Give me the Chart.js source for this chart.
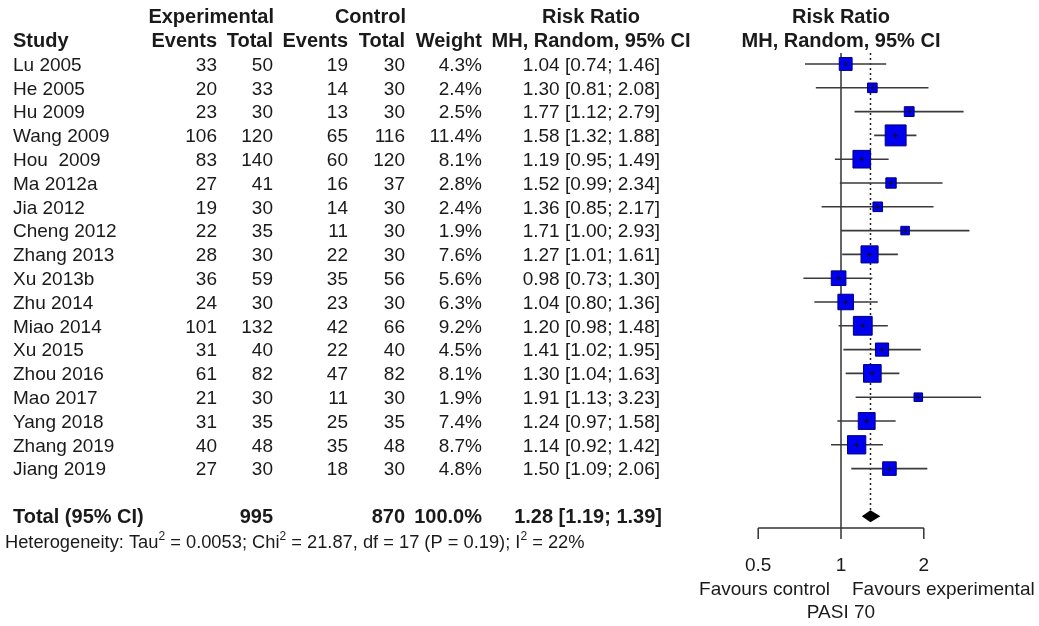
<!DOCTYPE html>
<html>
<head>
<meta charset="utf-8">
<title>PASI 70 forest plot</title>
<script src="https://cdn.jsdelivr.net/npm/chart.js@4.4.1/dist/chart.umd.min.js"></script>
<style>
  html, body { margin: 0; padding: 0; background: #ffffff; }
  canvas { display: block; }
</style>
</head>
<body>
<canvas id="forest" width="1039" height="626"></canvas>
<script>
// ---- study data ----
const studies = ['Lu 2005', 'He 2005', 'Hu 2009', 'Wang 2009', 'Hou  2009', 'Ma 2012a', 'Jia 2012',
  'Cheng 2012', 'Zhang 2013', 'Xu 2013b', 'Zhu 2014', 'Miao 2014', 'Xu 2015', 'Zhou 2016',
  'Mao 2017', 'Yang 2018', 'Zhang 2019', 'Jiang 2019'];
const expEvents  = [33, 20, 23, 106, 83, 27, 19, 22, 28, 36, 24, 101, 31, 61, 21, 31, 40, 27];
const expTotal   = [50, 33, 30, 120, 140, 41, 30, 35, 30, 59, 30, 132, 40, 82, 30, 35, 48, 30];
const ctrlEvents = [19, 14, 13, 65, 60, 16, 14, 11, 22, 35, 23, 42, 22, 47, 11, 25, 35, 18];
const ctrlTotal  = [30, 30, 30, 116, 120, 37, 30, 30, 30, 56, 30, 66, 40, 82, 30, 35, 48, 30];
const weights    = [4.3, 2.4, 2.5, 11.4, 8.1, 2.8, 2.4, 1.9, 7.6, 5.6, 6.3, 9.2, 4.5, 8.1, 1.9, 7.4, 8.7, 4.8];
const riskRatio  = [1.04, 1.30, 1.77, 1.58, 1.19, 1.52, 1.36, 1.71, 1.27, 0.98, 1.04, 1.20, 1.41, 1.30, 1.91, 1.24, 1.14, 1.50];
const ciLower    = [0.74, 0.81, 1.12, 1.32, 0.95, 0.99, 0.85, 1.00, 1.01, 0.73, 0.80, 0.98, 1.02, 1.04, 1.13, 0.97, 0.92, 1.09];
const ciUpper    = [1.46, 2.08, 2.79, 1.88, 1.49, 2.34, 2.17, 2.93, 1.61, 1.30, 1.36, 1.48, 1.95, 1.63, 3.23, 1.58, 1.42, 2.06];

// pooled random-effects estimate
const totalExp = 995;
const totalCtrl = 870;
const totalWeight = 100.0;
const totalRR = 1.28;
const totalLower = 1.19;
const totalUpper = 1.39;

// axis of the forest panel
const axisTicks = [0.5, 1, 2];
const axisTickLabels = ['0.5', '1', '2'];

// ---- layout ----
const W = 1039, H = 626;
const NULL_PX = 841;            // horizontal position of RR = 1
const PX_PER_DOUBLING = 82.8;   // log-scale spacing
const ROW0_PX = 64;             // first study row
const ROW_PX = 23.8;            // row pitch
const xMin = Math.pow(2, (0 - NULL_PX) / PX_PER_DOUBLING);
const xMax = Math.pow(2, (W - NULL_PX) / PX_PER_DOUBLING);
const yMin = -ROW0_PX / ROW_PX;
const yMax = yMin + H / ROW_PX;

const totalRow = studies.length + 1;
const axisRow = totalRow + 0.5;
const topRow = -0.46;

const FONT = '"Liberation Sans", Arial, sans-serif';
const TEXT = '#1a1a1a';

const ciData = [];
riskRatio.forEach((v, i) => {
  ciData.push({ x: ciLower[i], y: i }, { x: ciUpper[i], y: i }, { x: null, y: null });
});

const fmt2 = v => v.toFixed(2);
const rrLabel = (e, l, u) => fmt2(e) + ' [' + fmt2(l) + '; ' + fmt2(u) + ']';

const tablePlugin = {
  id: 'forestTable',
  beforeDraw(chart) {
    const ctx = chart.ctx;
    ctx.save();
    ctx.fillStyle = '#ffffff';
    ctx.fillRect(0, 0, chart.width, chart.height);
    ctx.restore();
  },
  afterDatasetsDraw(chart) {
    const ctx = chart.ctx;
    const xs = chart.scales.x, ys = chart.scales.y;
    const rowY = r => ys.getPixelForValue(r) + 1.5;

    // pooled diamond
    const yc = ys.getPixelForValue(totalRow);
    const half = ROW_PX * 0.25;
    ctx.save();
    ctx.fillStyle = '#000000';
    ctx.beginPath();
    ctx.moveTo(xs.getPixelForValue(totalLower), yc);
    ctx.lineTo(xs.getPixelForValue(totalRR), yc - half);
    ctx.lineTo(xs.getPixelForValue(totalUpper), yc);
    ctx.lineTo(xs.getPixelForValue(totalRR), yc + half);
    ctx.closePath();
    ctx.fill();
    ctx.restore();

    // x axis of forest panel
    const ay = ys.getPixelForValue(axisRow);
    const tickEnd = ys.getPixelForValue(axisRow + 0.46);
    ctx.save();
    ctx.strokeStyle = '#333333';
    ctx.lineWidth = 1.5;
    ctx.beginPath();
    ctx.moveTo(xs.getPixelForValue(axisTicks[0]), ay);
    ctx.lineTo(xs.getPixelForValue(axisTicks[axisTicks.length - 1]), ay);
    axisTicks.forEach(t => {
      const px = xs.getPixelForValue(t);
      ctx.moveTo(px, ay);
      ctx.lineTo(px, tickEnd);
    });
    ctx.stroke();
    ctx.restore();

    const text = (str, x, y, align, bold) => {
      ctx.font = (bold ? 'bold 20px ' : '19px ') + FONT;
      ctx.textAlign = align;
      ctx.fillText(str, x, y);
    };

    ctx.save();
    ctx.fillStyle = TEXT;
    ctx.textBaseline = 'middle';

    axisTicks.forEach((t, i) => text(axisTickLabels[i], xs.getPixelForValue(t), rowY(totalRow + 2.02), 'center', false));
    const x1 = xs.getPixelForValue(1);
    text('Favours control', x1 - 11, rowY(totalRow + 3.02), 'right', false);
    text('Favours experimental', x1 + 11, rowY(totalRow + 3.02), 'left', false);
    text('PASI 70', x1, rowY(totalRow + 4.0), 'center', false);

    // column headers
    const colStudy = 13, colEE = 217, colET = 273, colCE = 348, colCT = 405, colW = 482, colRR = 660, colRRc = 591;
    text('Experimental', colET + 1, rowY(-2), 'right', true);
    text('Control', colCT + 1, rowY(-2), 'right', true);
    text('Risk Ratio', colRRc, rowY(-2), 'center', true);
    text('Risk Ratio', x1, rowY(-2), 'center', true);
    text('Study', colStudy, rowY(-1), 'left', true);
    text('Events', colEE, rowY(-1), 'right', true);
    text('Total', colET, rowY(-1), 'right', true);
    text('Events', colCE, rowY(-1), 'right', true);
    text('Total', colCT, rowY(-1), 'right', true);
    text('Weight', colW, rowY(-1), 'right', true);
    text('MH, Random, 95% CI', colRRc, rowY(-1), 'center', true);
    text('MH, Random, 95% CI', x1, rowY(-1), 'center', true);

    // study rows
    studies.forEach((s, i) => {
      const y = rowY(i);
      text(s, colStudy, y, 'left', false);
      text(String(expEvents[i]), colEE, y, 'right', false);
      text(String(expTotal[i]), colET, y, 'right', false);
      text(String(ctrlEvents[i]), colCE, y, 'right', false);
      text(String(ctrlTotal[i]), colCT, y, 'right', false);
      text(weights[i].toFixed(1) + '%', colW, y, 'right', false);
      text(rrLabel(riskRatio[i], ciLower[i], ciUpper[i]), colRR, y, 'right', false);
    });

    // pooled row
    const ty = rowY(totalRow);
    text('Total (95% CI)', colStudy, ty, 'left', true);
    text(String(totalExp), colET, ty, 'right', true);
    text(String(totalCtrl), colCT, ty, 'right', true);
    text(totalWeight.toFixed(1) + '%', colW, ty, 'right', true);
    text(rrLabel(totalRR, totalLower, totalUpper), colRR + 2, ty, 'right', true);

    // heterogeneity line with superscripts
    const hy = rowY(totalRow + 1.05);
    const parts = ['Heterogeneity: Tau', '2', ' = 0.0053; Chi', '2', ' = 21.87, df = 17 (P = 0.19); I', '2', ' = 22%'];
    let hx = 5;
    parts.forEach((p, k) => {
      const sup = k % 2 === 1;
      ctx.font = (sup ? '12px ' : '18.3px ') + FONT;
      ctx.textAlign = 'left';
      ctx.fillText(p, hx, sup ? hy - 6 : hy);
      hx += ctx.measureText(p).width;
    });
    ctx.restore();
  }
};

new Chart(document.getElementById('forest'), {
  type: 'scatter',
  data: {
    datasets: [
      {
        label: 'marker',
        data: riskRatio.map((v, i) => ({ x: v, y: i })),
        pointStyle: 'cross',
        pointRadius: 2.5,
        pointHoverRadius: 2.5,
        borderColor: '#111111',
        borderWidth: 1,
        order: 0
      },
      {
        label: 'weight',
        data: riskRatio.map((v, i) => ({ x: v, y: i })),
        pointStyle: 'rect',
        pointRadius: weights.map(w => 6.2 * Math.sqrt(w) / Math.SQRT2),
        pointHoverRadius: weights.map(w => 6.2 * Math.sqrt(w) / Math.SQRT2),
        backgroundColor: '#0000ee',
        borderColor: '#00007a',
        borderWidth: 1,
        order: 1
      },
      {
        label: '95% CI',
        data: ciData,
        showLine: true,
        spanGaps: false,
        pointRadius: 0,
        borderColor: '#3a3a3a',
        borderWidth: 1.6,
        order: 2
      },
      {
        label: 'pooled',
        data: [{ x: totalRR, y: topRow }, { x: totalRR, y: totalRow - 0.25 }],
        showLine: true,
        pointRadius: 0,
        borderColor: '#222222',
        borderWidth: 1.5,
        borderDash: [2, 3],
        order: 3
      },
      {
        label: 'no effect',
        data: [{ x: 1, y: topRow }, { x: 1, y: axisRow }],
        showLine: true,
        pointRadius: 0,
        borderColor: '#333333',
        borderWidth: 1.5,
        order: 4
      }
    ]
  },
  options: {
    responsive: false,
    devicePixelRatio: 1,
    animation: false,
    layout: { padding: 0, autoPadding: false },
    plugins: { legend: { display: false }, tooltip: { enabled: false } },
    events: [],
    scales: {
      x: { type: 'logarithmic', min: xMin, max: xMax, bounds: 'data', display: false },
      y: { type: 'linear', reverse: true, min: yMin, max: yMax, display: false }
    }
  },
  plugins: [tablePlugin]
});
</script>
</body>
</html>
